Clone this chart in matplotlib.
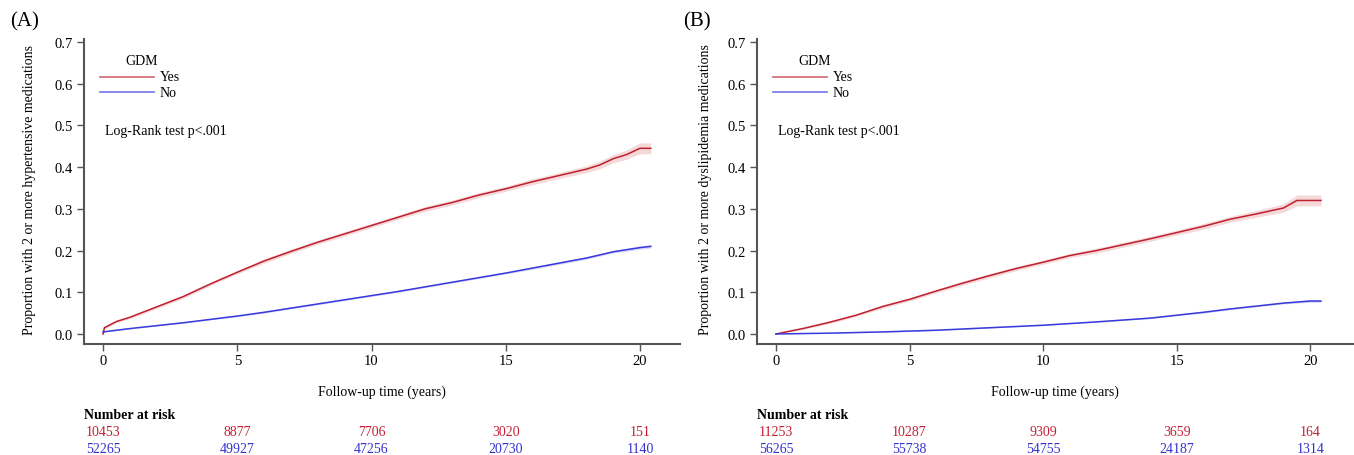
import matplotlib
matplotlib.use('Agg')
import matplotlib.pyplot as plt
import matplotlib.transforms as mtransforms
import numpy as np

plt.rcParams['font.family'] = ['Liberation Serif', 'DejaVu Serif']
plt.rcParams['font.size'] = 10

# panel A: hypertensive medications
tA_yes = [0, 0.05, 0.5, 1, 2, 3, 4, 5, 6, 7, 8, 9, 10, 11, 12, 13, 14, 15, 16, 17, 18, 18.5, 19, 19.5, 20, 20.4]
pA_yes = [0, 0.015, 0.03, 0.04, 0.065, 0.09, 0.12, 0.148, 0.175, 0.198, 0.22, 0.24, 0.26, 0.28, 0.30,
          0.315, 0.333, 0.348, 0.365, 0.38, 0.395, 0.405, 0.42, 0.43, 0.445, 0.445]
ciA_yes = [0, 0.003, 0.003, 0.003, 0.004, 0.004, 0.004, 0.004, 0.005, 0.005, 0.005, 0.005, 0.005, 0.005, 0.006,
           0.006, 0.006, 0.006, 0.007, 0.007, 0.008, 0.009, 0.010, 0.011, 0.013, 0.013]
tA_no = [0, 1, 2, 3, 4, 5, 6, 7, 8, 9, 10, 11, 12, 13, 14, 15, 16, 17, 18, 19, 20, 20.4]
pA_no = [0.005, 0.013, 0.02, 0.027, 0.035, 0.043, 0.052, 0.062, 0.072, 0.082, 0.092, 0.102, 0.113,
         0.124, 0.135, 0.146, 0.158, 0.17, 0.182, 0.197, 0.207, 0.21]
ciA_no = [0.001, 0.001, 0.001, 0.001, 0.001, 0.002, 0.002, 0.002, 0.002, 0.002, 0.002, 0.002, 0.002,
          0.002, 0.002, 0.002, 0.003, 0.003, 0.003, 0.003, 0.004, 0.004]

# panel B: dyslipidemia medications
tB_yes = [0, 1, 2, 3, 4, 5, 6, 7, 8, 9, 10, 11, 12, 13, 14, 15, 16, 17, 18, 19, 19.5, 20.4]
pB_yes = [0, 0.013, 0.028, 0.045, 0.066, 0.083, 0.103, 0.122, 0.14, 0.157, 0.172, 0.188, 0.2,
          0.214, 0.228, 0.243, 0.258, 0.275, 0.288, 0.302, 0.32, 0.32]
ciB_yes = [0, 0.002, 0.003, 0.003, 0.004, 0.004, 0.004, 0.005, 0.005, 0.005, 0.005, 0.005, 0.006,
           0.006, 0.006, 0.006, 0.007, 0.007, 0.008, 0.010, 0.013, 0.013]
tB_no = [0, 2, 4, 5, 6, 8, 10, 12, 14, 15, 16, 17, 18, 19, 20, 20.4]
pB_no = [0, 0.002, 0.005, 0.007, 0.009, 0.015, 0.021, 0.029, 0.038, 0.045, 0.052, 0.06, 0.067, 0.074, 0.079, 0.079]
ciB_no = [0, 0.0005, 0.0008, 0.001, 0.001, 0.001, 0.001, 0.001, 0.0015, 0.0015, 0.002, 0.002, 0.002, 0.002, 0.003, 0.003]

risk_times = [0, 5, 10, 15, 20]
riskA_yes = ['10453', '8877', '7706', '3020', '151']
riskA_no = ['52265', '49927', '47256', '20730', '1140']
riskB_yes = ['11253', '10287', '9309', '3659', '164']
riskB_no = ['56265', '55738', '54755', '24187', '1314']

red = '#BE2030'
blue = '#3838DD'
red_txt = '#C42033'
blue_txt = '#3333CC'
spine_col = '#555555'

W, H = 1354, 456
fig = plt.figure(figsize=(W / 100, H / 100), dpi=100)


def panel(left, xmin, xmax, letter, ylabel, ylab_x, t1, p1, c1, t2, p2, c2, r1, r2):
    ax = fig.add_axes([left / W, (H - 345) / H, 596 / W, 305 / H])
    t1, p1, c1 = np.array(t1), np.array(p1), np.array(c1)
    t2, p2, c2 = np.array(t2), np.array(p2), np.array(c2)
    ax.fill_between(t1, p1 - c1, p1 + c1, color='#F2C8C8', alpha=0.7, lw=0)
    ax.fill_between(t2, p2 - c2, p2 + c2, color='#C8C8F4', alpha=0.7, lw=0)
    ax.plot(t1, p1, color=red, lw=1.1)
    ax.plot(t2, p2, color=blue, lw=1.1)
    ax.set_xlim(xmin, xmax)
    ax.set_ylim(-0.024, 0.707)
    ax.set_xticks(risk_times)
    ax.set_yticks(np.arange(0, 0.71, 0.1))
    ax.set_yticklabels(['%.1f' % v for v in np.arange(0, 0.71, 0.1)])
    for s in ['top', 'right']:
        ax.spines[s].set_visible(False)
    for s in ['left', 'bottom']:
        ax.spines[s].set_color(spine_col)
        ax.spines[s].set_linewidth(1.5)
    ax.tick_params(direction='out', length=5, width=1, color=spine_col, labelsize=10.5, pad=3)
    ax.tick_params(axis='x', pad=2)
    ax.set_xlabel('Follow-up time (years)', fontsize=10, labelpad=13)
    fig.text(ylab_x / W, (H - 190) / H, ylabel, rotation=90, ha='center', va='center', fontsize=10)
    fig.text((left - 74) / W, (H - 22) / H, letter, ha='left', va='center', fontsize=15)

    # legend
    ax.text(0.07, 0.93, 'GDM', transform=ax.transAxes, fontsize=10, ha='left', va='center')
    ax.plot([0.027, 0.117], [0.877, 0.877], transform=ax.transAxes, color=red, alpha=0.7, lw=1.2)
    ax.plot([0.027, 0.117], [0.825, 0.825], transform=ax.transAxes, color=blue, alpha=0.7, lw=1.2)
    ax.text(0.127, 0.877, 'Yes', transform=ax.transAxes, fontsize=10, ha='left', va='center')
    ax.text(0.127, 0.825, 'No', transform=ax.transAxes, fontsize=10, ha='left', va='center')
    ax.text(0.035, 0.70, 'Log-Rank test p<.001', transform=ax.transAxes, fontsize=10, ha='left', va='center')

    # number at risk table
    trans = mtransforms.blended_transform_factory(ax.transData, fig.transFigure)
    trans2 = mtransforms.blended_transform_factory(ax.transAxes, fig.transFigure)
    ax.text(0.0, (H - 416) / H, 'Number at risk', transform=trans2, fontsize=10, fontweight='bold',
            ha='left', va='center', clip_on=False)
    for t, a, b in zip(risk_times, r1, r2):
        ax.text(t, (H - 433) / H, a, transform=trans, color=red_txt, fontsize=10, ha='center', va='center')
        ax.text(t, (H - 450) / H, b, transform=trans, color=blue_txt, fontsize=10, ha='center', va='center')
    return ax


panel(84, -0.71, 21.49, '(A)', 'Proportion with 2 or more hypertensive medications', 30,
      tA_yes, pA_yes, ciA_yes, tA_no, pA_no, ciA_no, riskA_yes, riskA_no)
panel(757, -0.71, 21.6, '(B)', 'Proportion with 2 or more dyslipidemia medications', 705,
      tB_yes, pB_yes, ciB_yes, tB_no, pB_no, ciB_no, riskB_yes, riskB_no)

fig.savefig('out.png', dpi=100)
